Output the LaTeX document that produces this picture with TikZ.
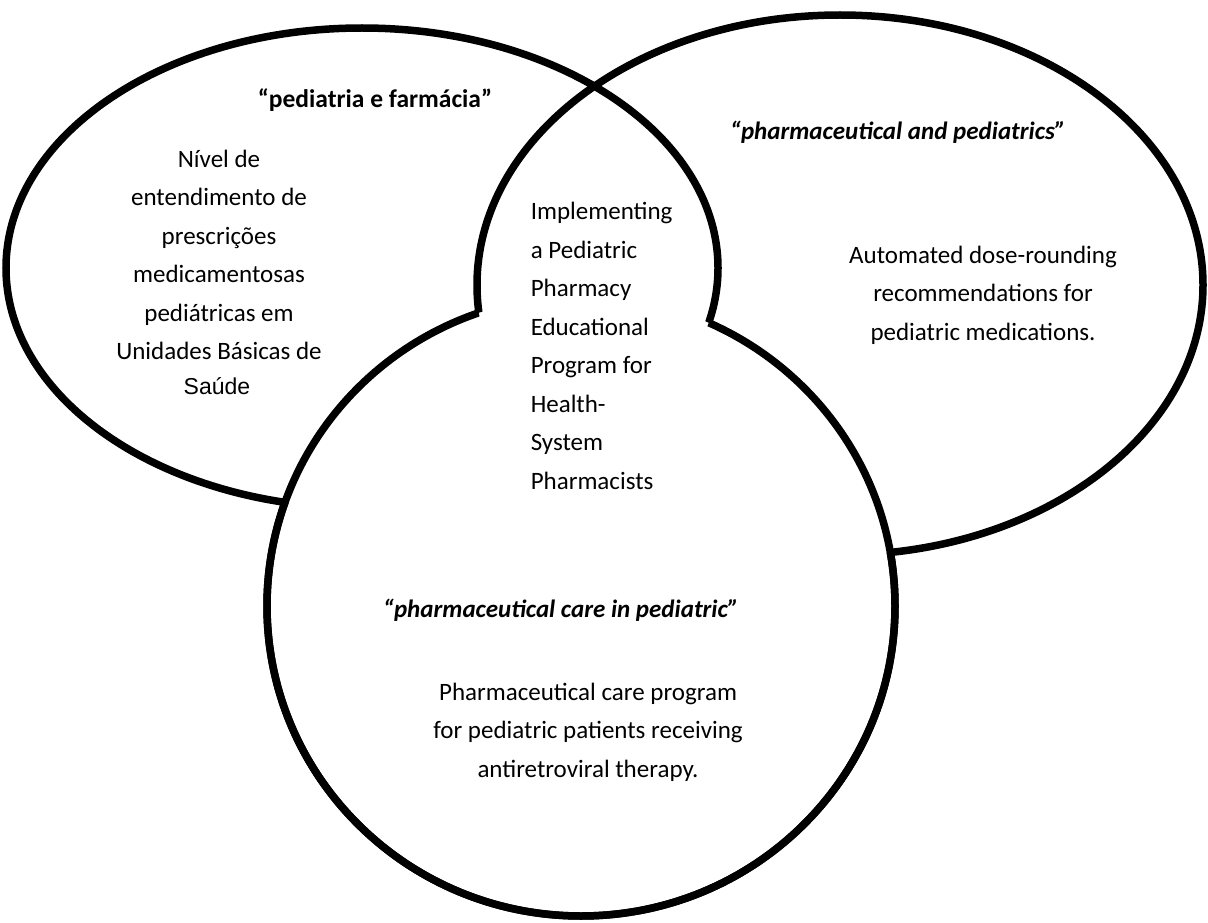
\documentclass[tikz,border=0pt]{standalone}
\usepackage{fontspec}
\setmainfont{Carlito}
\newfontfamily\arialf{Liberation Sans}
\begin{document}
\begin{tikzpicture}[x=1pt,y=-1pt,line width=7.5pt,
  txt/.style={font=\fontsize{25}{38.5}\selectfont, align=center, inner sep=0pt},
  ttl/.style={font=\fontsize{25.5}{38.5}\selectfont\bfseries, inner sep=0pt},
  ttli/.style={font=\fontsize{25}{38.5}\selectfont\bfseries\itshape, inner sep=0pt}]
\useasboundingbox (0,0) rectangle (1208,923);
\fill[white] (0,0) rectangle (1208,923);
% circle outline, outside the left ellipse
\begin{scope}
  \clip (-20,-20) -- (1228,-20) -- (1228,943) -- (-20,943) -- cycle
        (718,268) arc[start angle=0, end angle=-360, x radius=356, y radius=240];
  \draw (581,606) ellipse [x radius=314, y radius=310];
\end{scope}
% circle outline, outside the right ellipse
\begin{scope}
  \clip (-20,-20) -- (1228,-20) -- (1228,943) -- (-20,943) -- cycle
        (1203,285) arc[start angle=0, end angle=-360, x radius=363, y radius=270];
  \draw (581,606) ellipse [x radius=314, y radius=310];
\end{scope}
% both ellipses, outside the circle
\begin{scope}
  \clip (-20,-20) -- (1228,-20) -- (1228,943) -- (-20,943) -- cycle
        (895,606) arc[start angle=0, end angle=-360, x radius=314, y radius=310];
  \draw (362,268) ellipse [x radius=356, y radius=240];
  \draw (840,285) ellipse [x radius=363, y radius=270];
\end{scope}
% texts
\node[ttl] (t1) at (375,100) {“pediatria e farmácia”};
\node[ttli] (t2) at (898,132) {“pharmaceutical and pediatrics”};
\node[txt] (lb) at (219,255) {Nível de\\entendimento de\\prescrições\\medicamentosas\\pediátricas em\\Unidades Básicas de};
\node[font=\arialf\fontsize{23}{28}\selectfont, inner sep=0pt] (ls) at (217,386) {Saúde};
\node[txt, align=left, anchor=west] (cb) at (527,346) {Implementing\\a Pediatric\\Pharmacy\\Educational\\Program for\\Health-\\System\\Pharmacists};
\node[txt] (rb) at (983,295) {Automated dose-rounding\\recommendations for\\pediatric medications.};
\node[ttli] (t3) at (561,610) {“pharmaceutical care in pediatric”};
\node[txt] (bb) at (588,732) {Pharmaceutical care program\\for pediatric patients receiving\\antiretroviral therapy.};
\end{tikzpicture}
\end{document}
